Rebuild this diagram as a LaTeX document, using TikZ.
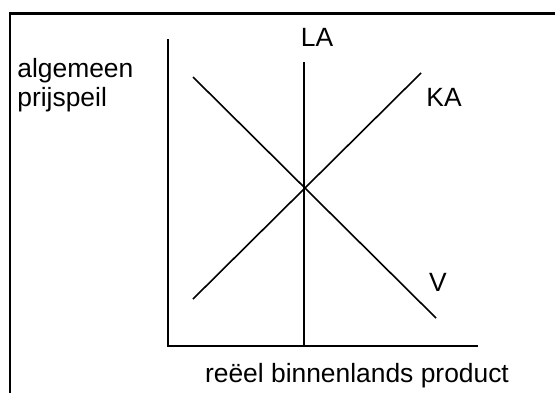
\documentclass[tikz,border=0pt]{standalone}
\usepackage{fontspec}
\setmainfont{Liberation Sans}
\usepackage{tikz}
\usetikzlibrary{positioning}

\begin{document}
\begin{tikzpicture}[
  x=0.5pt, y=-0.5pt,
  frame/.style={draw=black, line width=1.25pt},
  axis/.style={draw=black, line width=1pt},
  curve/.style={draw=black, line width=0.8pt},
  lbl/.style={inner sep=0pt, font=\fontsize{13.2}{14.5}\selectfont}]

  \useasboundingbox (0,0) rectangle (555,392);
  \clip (0,0) rectangle (555,392);

  % outer frame, runs off the right and bottom edge
  \draw[frame] (9.8,13.5) rectangle (620,460);

  % axes and curve end points
  \coordinate (ytop) at (168,39);
  \coordinate (orig) at (168,346);
  \coordinate (xend) at (478,346);
  \coordinate (latop) at (304,62);
  \coordinate (labot) at (304,346);
  \coordinate (vtop) at (193,77);
  \coordinate (vbot) at (436,318);
  \coordinate (kabot) at (193,299);
  \coordinate (katop) at (421,73);

  \draw[axis] (ytop) -- (orig) -- (xend);
  \draw[curve] (latop) -- (labot);
  \draw[curve] (vtop) -- (vbot);
  \draw[curve] (kabot) -- (katop);

  % labels
  \node[lbl, anchor=base] (la) at (317,46) {LA};
  \node[lbl, anchor=base west] (ka) at (426,106) {KA};
  \node[lbl, anchor=base] (v) at (438,291) {V};
  \node[lbl, anchor=base west, align=left] (ylab) at (17,106) {algemeen\\prijspeil};
  \node[lbl, anchor=base] (xlab) at (357,382) {reëel binnenlands product};
\end{tikzpicture}
\end{document}
